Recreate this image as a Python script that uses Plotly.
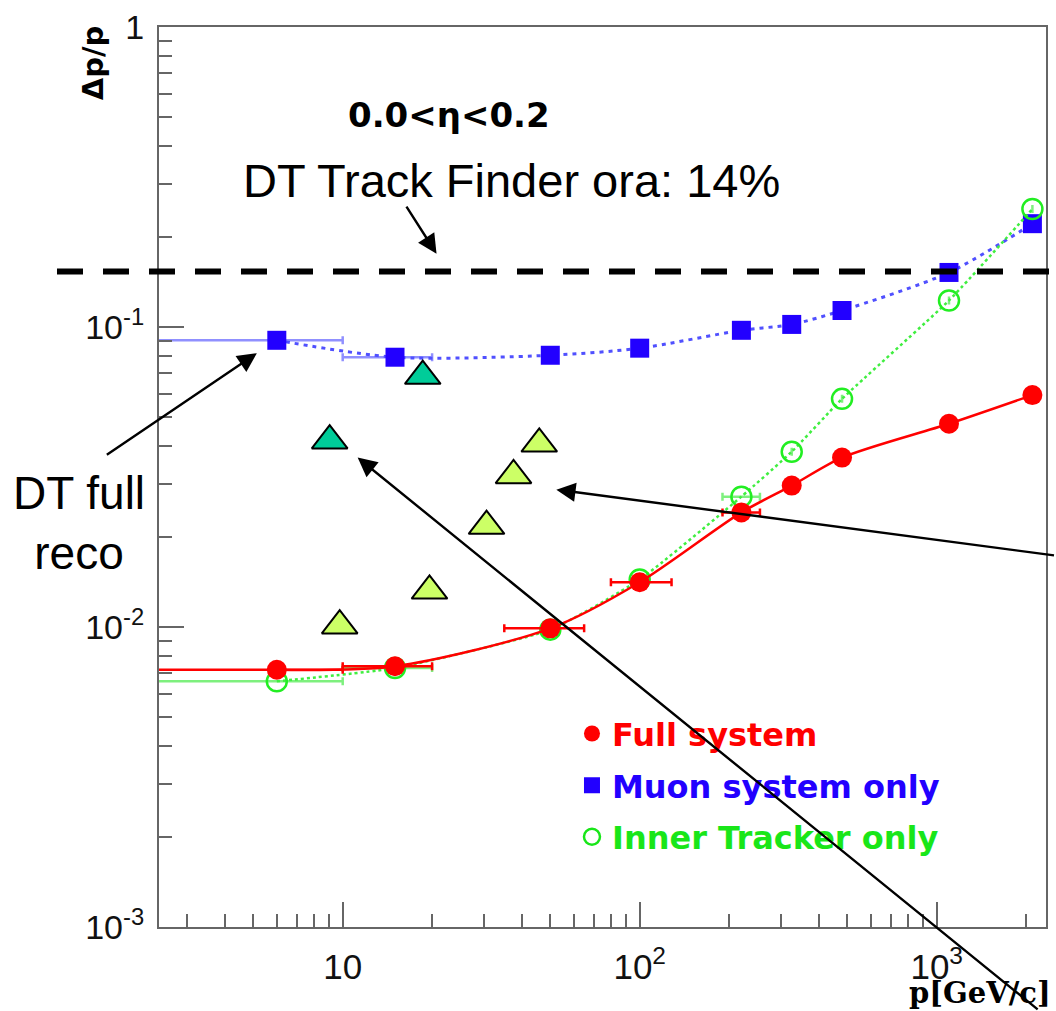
import numpy as np
import plotly.graph_objects as go

# ---------------- data ----------------
p_gev = [6, 15, 50, 100, 220, 325, 480, 1100, 2100]
full_system = [0.0072, 0.0074, 0.0099, 0.0141, 0.0241, 0.0296, 0.0367, 0.0476, 0.0593]
muon_only = [0.0903, 0.0793, 0.0805, 0.0850, 0.0975, 0.102, 0.1135, 0.152, 0.221]
tracker_only = [0.00659, 0.0073, 0.0098, 0.0144, 0.0272, 0.0384, 0.0576, 0.1226, 0.2473]

full_err_minus = [4, 5, 15, 20, 30, 0, 0, 0, 0]
full_err_plus = [4, 5, 15, 28, 34, 0, 0, 0, 0]
muon_err = [4, 5, 0, 0, 0, 0, 0, 0, 0]
tracker_err_minus = [4, 5, 0, 0, 30, 0, 0, 0, 0]
tracker_err_plus = [4, 5, 0, 0, 34, 0, 0, 0, 0]

dt_full_p = [9.04, 18.6]
dt_full_res = [0.0418, 0.0686]
dt_tf_p = [9.77, 19.6, 30.5, 37.6, 45.9]
dt_tf_res = [0.0101, 0.0132, 0.0217, 0.0320, 0.0408]

track_finder_level = 0.153

x_tick_vals = [10, 100, 1000]
x_tick_text = ["10", "10<sup>2</sup>", "10<sup>3</sup>"]
y_tick_vals = [0.001, 0.01, 0.1, 1]
y_tick_text = ["10<sup>-3</sup>", "10<sup>-2</sup>", "10<sup>-1</sup>", "1"]

series_names = ["Full system", "Muon system only", "Inner Tracker only"]

# arrow tips (data) and tail offsets (px)
arrow_tip_p = [20.7, 5.14, 52.4, 11.23]
arrow_tip_res = [0.1755, 0.0818, 0.0287, 0.0367]
arrow_ax = [-32, -152, 523, 682]
arrow_ay = [-50, 103, 66, 569]

# ---------------- styling ----------------
X_RANGE = [0.3815, 3.368]
Y_RANGE = [-3, 0]
RED = "#ff0000"
BLUE = "#2200ff"
GREEN = "#19e619"
FRAME = "#666666"

fig = go.Figure()

fig.add_trace(go.Scatter(
    x=p_gev, y=muon_only, mode="lines+markers", showlegend=False,
    line=dict(color="#5050ff", width=3, dash="4px,5px", shape="spline", smoothing=0.8),
    marker=dict(symbol="square", size=19, color=BLUE),
    error_x=dict(type="data", symmetric=True, array=muon_err, color="rgba(70,70,255,0.6)",
                 thickness=2.5, width=4),
))
fig.add_trace(go.Scatter(
    x=p_gev, y=tracker_only, mode="lines+markers", showlegend=False,
    line=dict(color="#40ee40", width=2.5, dash="3px,3px", shape="spline", smoothing=0.5),
    marker=dict(symbol="circle-open", size=20, color="#22ee22", line=dict(width=2.5)),
    error_x=dict(type="data", symmetric=False, array=tracker_err_plus,
                 arrayminus=tracker_err_minus, color="rgba(40,230,40,0.6)", thickness=2.5, width=4),
))
fig.add_trace(go.Scatter(
    x=p_gev, y=full_system, mode="lines+markers", showlegend=False,
    line=dict(color=RED, width=2.5, shape="spline", smoothing=0.8),
    marker=dict(symbol="circle", size=20, color=RED),
    error_x=dict(type="data", symmetric=False, array=full_err_plus,
                 arrayminus=full_err_minus, color=RED, thickness=2.5, width=4),
))
fig.add_trace(go.Scatter(
    x=dt_tf_p, y=dt_tf_res, mode="markers", showlegend=False,
    marker=dict(symbol="triangle-up", size=31, color="#ccff66", line=dict(color="black", width=2)),
))
fig.add_trace(go.Scatter(
    x=dt_full_p, y=dt_full_res, mode="markers", showlegend=False,
    marker=dict(symbol="triangle-up", size=31, color="#00cc99", line=dict(color="black", width=2)),
))

# legend-only entries (marker only)
legend_styles = [
    (RED, dict(symbol="circle", size=18, color=RED)),
    (BLUE, dict(symbol="square", size=17, color=BLUE)),
    (GREEN, dict(symbol="circle-open", size=17, color=GREEN, line=dict(width=2.5))),
]
for i, (name, (col, mk)) in enumerate(zip(series_names, legend_styles)):
    fig.add_trace(go.Scatter(
        x=[None], y=[None], mode="markers", marker=mk, legendgroup=f"g{i}",
        name=f'<b><span style="color:{col}">{name}</span></b>',
    ))

# horizontal dashed line (extends left of the frame)
y_paper_tf = (np.log10(track_finder_level) - Y_RANGE[0]) / (Y_RANGE[1] - Y_RANGE[0])
fig.add_shape(type="line", xref="paper", yref="paper", x0=-0.115, x1=1.02,
              y0=y_paper_tf, y1=y_paper_tf, line=dict(color="black", width=6, dash="26px,20px"))

# arrows
for xp, yv, ax, ay in zip(arrow_tip_p, arrow_tip_res, arrow_ax, arrow_ay):
    fig.add_annotation(x=np.log10(xp), y=np.log10(yv), xref="x", yref="y", text=" ",
                       showarrow=True, ax=ax, ay=ay, axref="pixel", ayref="pixel",
                       arrowhead=2, arrowsize=1.6, arrowwidth=2.4, arrowcolor="black",
                       font=dict(size=2))

# texts
def label(text, x, y, font, **kw):
    fig.add_annotation(xref="paper", yref="paper", x=x, y=y, showarrow=False,
                       xanchor=kw.pop("xanchor", "center"), yanchor=kw.pop("yanchor", "middle"),
                       text=text, font=font, **kw)

label("<b>0.0&lt;η&lt;0.2</b>", 0.327, 0.902,
      dict(family="DejaVu Sans", size=34, color="black"))
label("DT Track Finder ora: 14%", 0.397, 0.830,
      dict(family="Liberation Sans", size=47, color="black"))
label("DT full<br>reco", -0.090, 0.449,
      dict(family="Liberation Sans", size=46, color="black"), align="center")
label("<b>Δp/p</b>", -0.0742, 0.960,
      dict(family="DejaVu Sans", size=29, color="black"), textangle=-90)
label("<b>p[GeV/c]</b>", 1.0067, -0.0928,
      dict(family="DejaVu Serif", size=29, color="black"), xanchor="right", yanchor="bottom",
      borderpad=0)

x_minor = [d * k for d in [1, 10, 100, 1000] for k in range(2, 10)]
y_minor = [d * k for d in [0.001, 0.01, 0.1] for k in range(2, 10)]

fig.update_xaxes(
    type="log", range=X_RANGE, tickmode="array", tickvals=x_tick_vals, ticktext=x_tick_text,
    ticks="inside", ticklen=25, tickwidth=2, tickcolor=FRAME,
    minor=dict(tickmode="array", tickvals=x_minor, ticks="inside", ticklen=13,
               tickwidth=2, tickcolor=FRAME, showgrid=False),
    showline=True, linecolor=FRAME, linewidth=2, mirror=True, showgrid=False, zeroline=False,
    tickfont=dict(family="Liberation Sans", size=35, color="#111111"), ticklabelstandoff=8,
)
fig.update_yaxes(
    type="log", range=Y_RANGE, tickmode="array", tickvals=y_tick_vals, ticktext=y_tick_text,
    ticks="inside", ticklen=25, tickwidth=2, tickcolor=FRAME,
    minor=dict(tickmode="array", tickvals=y_minor, ticks="inside", ticklen=13,
               tickwidth=2, tickcolor=FRAME, showgrid=False),
    showline=True, linecolor=FRAME, linewidth=2, mirror=True, showgrid=False, zeroline=False,
    tickfont=dict(family="Liberation Sans", size=34, color="#111111"), ticklabelstandoff=6,
)

fig.update_layout(
    width=1056, height=1011,
    margin=dict(l=159, r=8, t=22, b=84),
    plot_bgcolor="white", paper_bgcolor="white",
    legend=dict(x=0.4656, y=0.2453, xanchor="left", yanchor="top", bgcolor="rgba(0,0,0,0)",
                font=dict(family="DejaVu Sans", size=32), tracegroupgap=7),
)

fig.write_html("out.html")
